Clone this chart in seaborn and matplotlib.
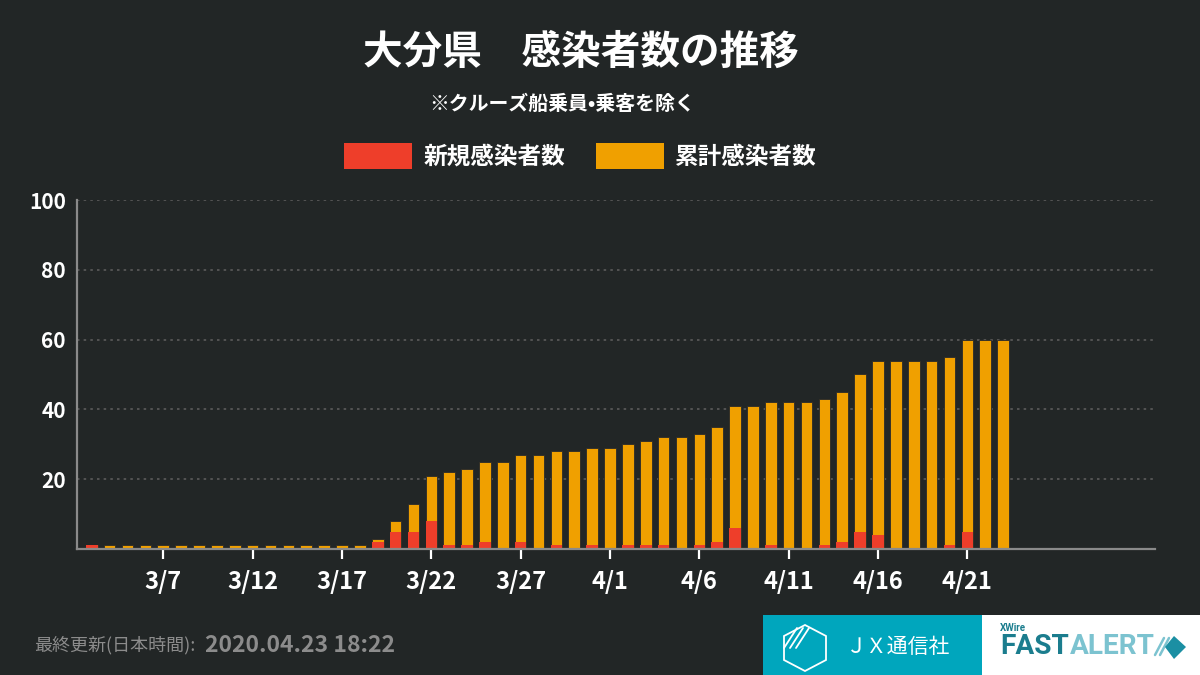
import matplotlib
matplotlib.use("Agg")
import matplotlib.pyplot as plt
from matplotlib.patches import Patch, Rectangle, Polygon
import seaborn as sns
import pandas as pd

# ---------------- data ----------------
dates = [d.strftime("%-m/%-d") for d in pd.date_range("2020-03-03", "2020-04-23")]
cumulative = [1] + [1] * 15 + [3, 8, 13, 21, 22, 23, 25, 25, 27, 27, 28, 28, 29,
              29, 30, 31, 32, 32, 33, 35, 41, 41, 42, 42, 42, 43, 45, 50, 54,
              54, 54, 54, 55, 60, 60, 60]
new_cases = [1] + [0] * 15 + [2, 5, 5, 8, 1, 1, 2, 0, 2, 0, 1, 0, 1,
             0, 1, 1, 1, 0, 1, 2, 6, 0, 1, 0, 0, 1, 2, 5, 4,
             0, 0, 0, 1, 5, 0, 0]
tick_labels = ["3/7", "3/12", "3/17", "3/22", "3/27", "4/1", "4/6", "4/11", "4/16", "4/21"]
y_ticks = [20, 40, 60, 80, 100]

df = pd.DataFrame({"date": dates, "cum": cumulative, "new": new_cases})

BG = "#222626"
ORANGE = "#F0A000"
RED = "#EE3E2A"
WHITE = "#FFFFFF"

sns.set_theme(style="dark")
plt.rcParams["font.family"] = ["Noto Sans CJK JP", "DejaVu Sans"]

fig = plt.figure(figsize=(12, 6.75), dpi=100, facecolor=BG)
ax = fig.add_axes([0.064, 0.1867, 0.8985, 0.517])
ax.set_facecolor(BG)

sns.barplot(data=df, x="date", y="cum", order=dates, color=ORANGE, saturation=1,
            width=0.65, edgecolor="#2a2a2a", linewidth=0.6, ax=ax, zorder=2)
sns.barplot(data=df, x="date", y="new", order=dates, color=RED, saturation=1,
            width=0.65, linewidth=0, ax=ax, zorder=3)

ax.set_xlim(-0.84, 59.5)
ax.set_ylim(0, 100)
ax.set_xlabel("")
ax.set_ylabel("")

ax.set_xticks([dates.index(t) for t in tick_labels])
ax.set_xticklabels(tick_labels)
ax.set_yticks(y_ticks)
ax.set_yticklabels([str(v) for v in y_ticks])

ax.tick_params(axis="x", colors=WHITE, length=7, width=1.6, direction="out",
               pad=8, labelsize=17, bottom=True)
ax.tick_params(axis="y", colors=WHITE, length=0, pad=8, labelsize=15, left=False)
for lab in ax.get_xticklabels() + ax.get_yticklabels():
    lab.set_fontweight("bold")
    lab.set_color(WHITE)

ax.yaxis.grid(True, linestyle=(0, (1.5, 2.5)), color="#5c5c5c", linewidth=1.2)
ax.xaxis.grid(False)
ax.set_axisbelow(True)

for side in ["top", "right"]:
    ax.spines[side].set_visible(False)
for side in ["left", "bottom"]:
    ax.spines[side].set_visible(True)
    ax.spines[side].set_color("#8a8a8a")
    ax.spines[side].set_linewidth(1.6)
ax.spines["bottom"].set_zorder(5)

# ---------------- titles ----------------
fig.text(0.484, 0.923, "大分県\u3000感染者数の推移", ha="center", va="center",
         fontsize=28.5, fontweight="bold", color=WHITE)
fig.text(0.4685, 0.847, "※クルーズ船乗員•乗客を除く", ha="center", va="center",
         fontsize=14.3, fontweight="bold", color=WHITE,
         family=["Noto Sans CJK JP", "DejaVu Sans"])

# ---------------- legend ----------------
handles = [Patch(facecolor=RED, edgecolor="none", label="新規感染者数"),
           Patch(facecolor=ORANGE, edgecolor="none", label="累計感染者数")]
leg = fig.legend(handles=handles, loc="center", bbox_to_anchor=(0.4835, 0.769),
                 ncol=2, frameon=False, fontsize=17, handlelength=2.9,
                 handleheight=1.36, handletextpad=0.47, columnspacing=1.3,
                 borderpad=0)
for t in leg.get_texts():
    t.set_color(WHITE)
    t.set_fontweight("bold")

# ---------------- footer ----------------
fig.text(34 / 1200, 1 - 645 / 675, "最終更新(日本時間):", ha="left", va="center",
         fontsize=13, color="#8c8c8c")
fig.text(205 / 1200, 1 - 645 / 675, "2020.04.23 18:22", ha="left", va="center",
         fontsize=16.5, fontweight="bold", color="#8c8c8c")

# logos (pixel coordinates via inches transform)
T = fig.dpi_scale_trans


def P(x, y):
    return (x / 100.0, (675 - y) / 100.0)


fig.patches.append(Rectangle(P(763, 675), 2.19, 0.60, transform=T,
                             facecolor="#00A6BD", edgecolor="none", zorder=1))
fig.patches.append(Rectangle(P(982, 675), 2.18, 0.60, transform=T,
                             facecolor="#FFFFFF", edgecolor="none", zorder=1))
# JX icon: hexagon outline + stripes
hexpts = [P(805, 625), P(826, 636), P(826, 660), P(805, 671), P(784, 660), P(784, 636)]
fig.patches.append(Polygon(hexpts, closed=True, transform=T, fill=False,
                           edgecolor=WHITE, linewidth=1.3, zorder=2))
for dx in (0, 6, 12):
    fig.lines.append(plt.Line2D([P(784 + dx, 648)[0], P(797 + dx, 628)[0]],
                                [P(784 + dx, 648)[1], P(797 + dx, 628)[1]],
                                transform=T, color=WHITE, linewidth=1.3))
fig.text(898 / 1200, 1 - 647 / 675, "ＪＸ通信社", ha="center", va="center",
         fontsize=15, color=WHITE)

# FASTALERT wordmark, sized to fit its box
renderer = fig.canvas.get_renderer()
fam = ["Roboto", "DejaVu Sans"]
fig.text(1000 / 1200, 1 - 628 / 675, "XWire", ha="left", va="center",
         fontsize=7, fontweight="bold", color="#1B7D8E", family=fam)
probe = fig.text(0, 0, "FASTALERT", fontsize=20, fontweight="bold", family=fam)
w_probe = probe.get_window_extent(renderer).width
probe.remove()
fs = 20 * 153.0 / w_probe
t_fast = fig.text(1000 / 1200, 1 - 647 / 675, "FAST", ha="left", va="center",
                  fontsize=fs, fontweight="bold", color="#1B7D8E", family=fam)
w_fast = t_fast.get_window_extent(renderer).width
fig.text((1000 + w_fast + 1) / 1200, 1 - 647 / 675, "ALERT", ha="left", va="center",
         fontsize=fs, fontweight="bold", color="#7CC3D0", family=fam)
fig.patches.append(Polygon([P(1174, 636), P(1186, 647), P(1174, 659), P(1165, 647)],
                           closed=True, transform=T, facecolor="#1B8FA3",
                           edgecolor="none", zorder=2))
for dx in (0, 5):
    fig.lines.append(plt.Line2D([P(1155 + dx, 655)[0], P(1164 + dx, 638)[0]],
                                [P(1155 + dx, 655)[1], P(1164 + dx, 638)[1]],
                                transform=T, color="#7CC3D0", linewidth=1.8))

fig.savefig("out.png", dpi=100, facecolor=BG)
